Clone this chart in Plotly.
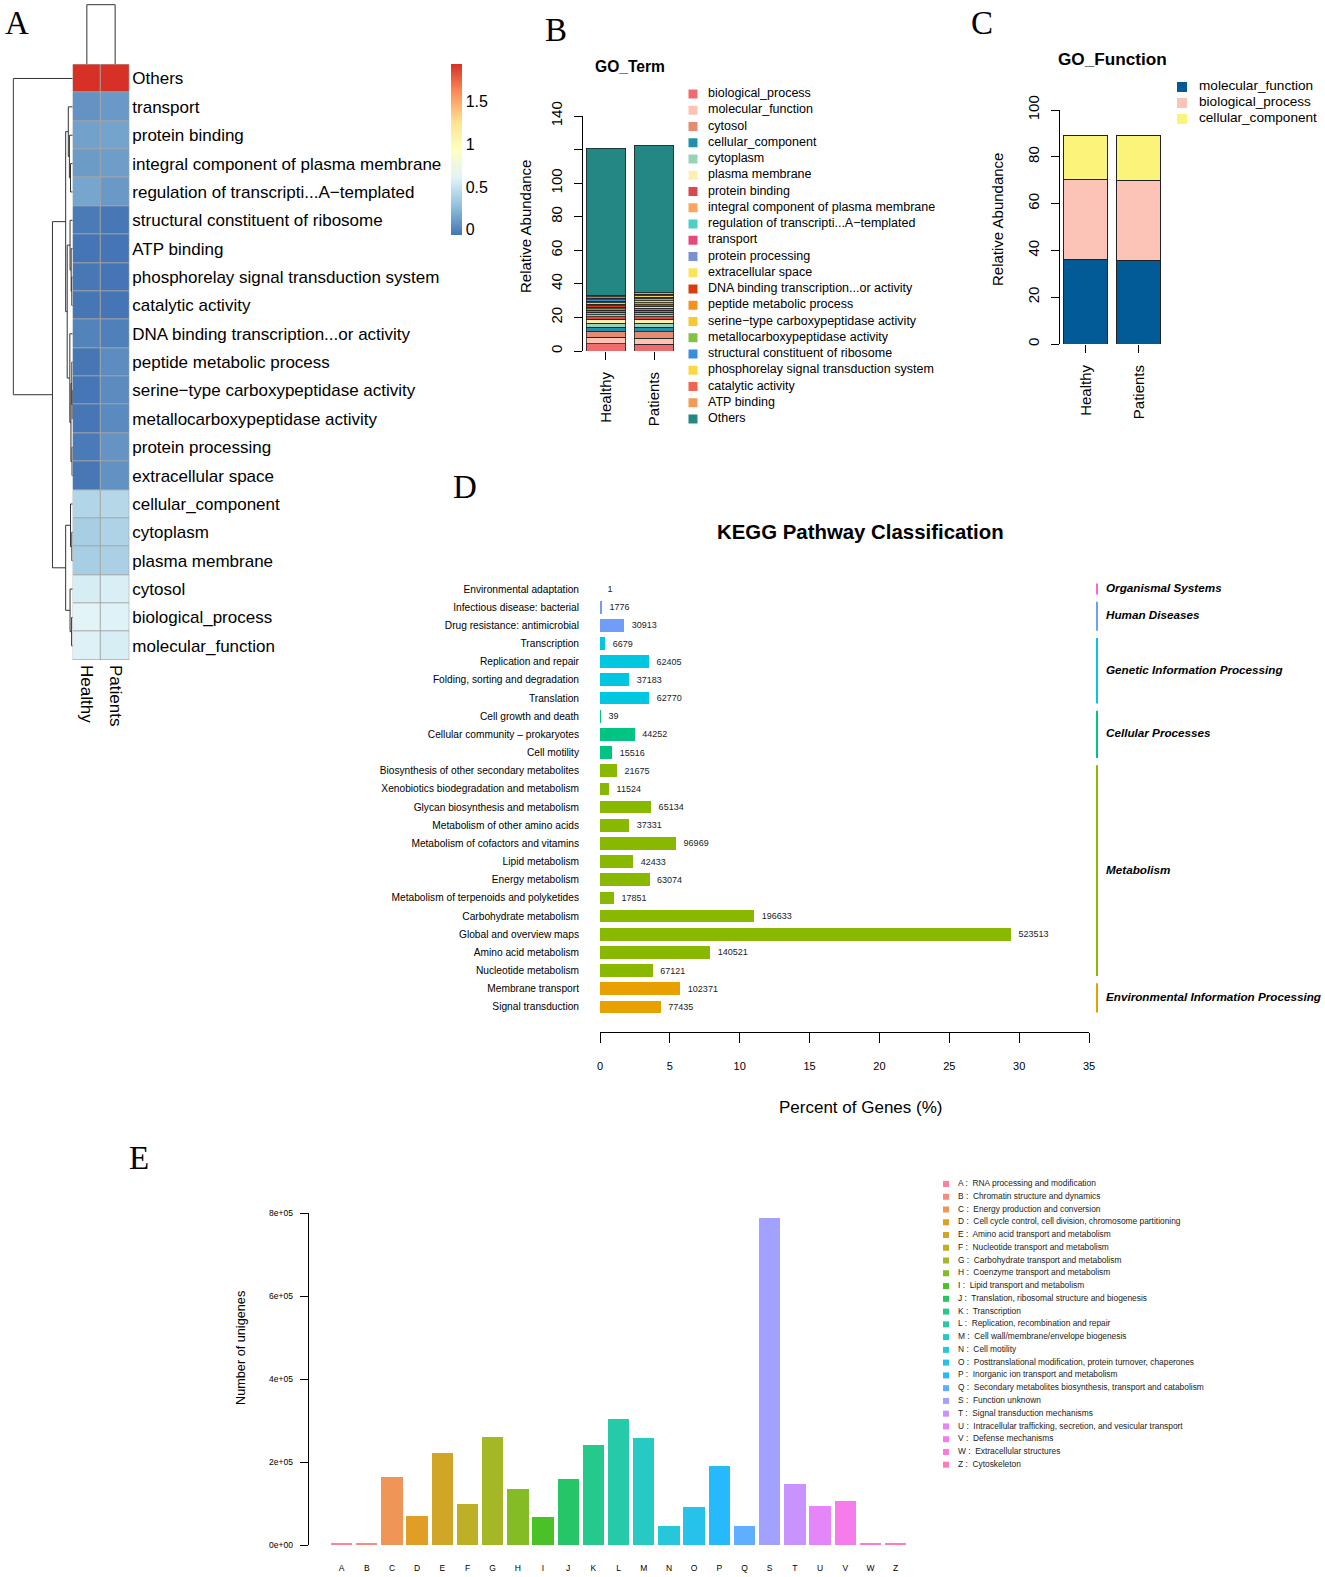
import math
import plotly.graph_objects as go

W, H = 1325, 1577
FONT = "Liberation Sans, Arial, Helvetica, sans-serif"

# ======================= Panel A : heatmap data =======================
hm_rows = ["Others", "transport", "protein binding", "integral component of plasma membrane",
           "regulation of transcripti...A\u2212templated", "structural constituent of ribosome",
           "ATP binding", "phosphorelay signal transduction system", "catalytic activity",
           "DNA binding transcription...or activity", "peptide metabolic process",
           "serine\u2212type carboxypeptidase activity", "metallocarboxypeptidase activity",
           "protein processing", "extracellular space", "cellular_component", "cytoplasm",
           "plasma membrane", "cytosol", "biological_process", "molecular_function"]
hm_cols = ["Healthy", "Patients"]
hm_healthy = [1.94, 0.069, 0.135, 0.108, 0.152, -0.037, -0.063, -0.056, -0.060, -0.001, -0.060,
              -0.058, -0.058, -0.040, -0.055, 0.415, 0.364, 0.364, 0.563, 0.625, 0.592]
hm_patients = [1.94, 0.100, 0.143, 0.117, 0.100, -0.055, -0.062, -0.062, -0.062, -0.015, 0.042,
               0.034, 0.030, 0.078, 0.065, 0.423, 0.394, 0.381, 0.576, 0.597, 0.570]
# row dendrogram (scipy-style linkage: left id, right id, merge height)
row_linkage = [[3, 4, 0.10], [2, 21, 0.15], [1, 22, 0.20], [7, 8, 0.04], [6, 24, 0.07],
               [5, 25, 0.12], [11, 12, 0.02], [10, 27, 0.04], [13, 14, 0.03], [28, 29, 0.08],
               [9, 30, 0.13], [26, 31, 0.25], [23, 32, 0.32], [16, 17, 0.04], [15, 34, 0.10],
               [19, 20, 0.05], [18, 36, 0.12], [35, 37, 0.32], [33, 38, 0.92], [0, 39, 2.70]]
col_linkage = [[0, 1, 1.0]]
heat_colors = ["#4575B4", "#91BFDB", "#E0F3F8", "#FFFFBF", "#FEE090", "#FC8D59", "#D73027"]

# ======================= Panel B : GO_Term =======================
go_terms = ["biological_process", "molecular_function", "cytosol", "cellular_component", "cytoplasm",
            "plasma membrane", "protein binding", "integral component of plasma membrane",
            "regulation of transcripti...A\u2212templated", "transport", "protein processing",
            "extracellular space", "DNA binding transcription...or activity", "peptide metabolic process",
            "serine\u2212type carboxypeptidase activity", "metallocarboxypeptidase activity",
            "structural constituent of ribosome", "phosphorelay signal transduction system",
            "catalytic activity", "ATP binding", "Others"]
go_healthy = [4.2, 3.9, 3.6, 2.6, 2.3, 2.3, 1.4, 1.3, 1.4, 1.2, 0.9, 0.9, 1.0, 0.9, 0.9, 0.9,
              0.9, 0.9, 0.9, 0.9, 87.4]
go_patients = [4.0, 3.7, 3.8, 2.6, 2.5, 2.4, 1.4, 1.3, 1.3, 1.3, 1.2, 1.2, 1.0, 1.1, 1.1, 1.1,
               0.9, 0.9, 0.9, 0.9, 88.0]
go_colors = ["#EE6B6E", "#FCC2B3", "#E58C70", "#238FAE", "#97D4B7", "#FDEFB2", "#D8484E", "#FBA65C",
             "#4DD0C3", "#E64A7B", "#7A90D2", "#FBE35C", "#D83C0C", "#F4921F", "#F5C933", "#84C042",
             "#3A8DD8", "#FDD745", "#F16550", "#F29A58", "#238783"]
go_ticks = [0, 20, 40, 60, 80, 100, 120, 140]
go_ticktext = ["0", "20", "40", "60", "80", "100", "", "140"]

# ======================= Panel C : GO_Function =======================
fn_names = ["molecular_function", "biological_process", "cellular_component"]
fn_healthy = [35.9, 34.2, 18.8]
fn_patients = [35.8, 33.9, 19.2]
fn_colors = ["#025A97", "#FCC4B6", "#FBF47B"]

# ======================= Panel D : KEGG =======================
kegg_paths = ["Environmental adaptation", "Infectious disease: bacterial", "Drug resistance: antimicrobial",
              "Transcription", "Replication and repair", "Folding, sorting and degradation", "Translation",
              "Cell growth and death", "Cellular community \u2013 prokaryotes", "Cell motility",
              "Biosynthesis of other secondary metabolites", "Xenobiotics biodegradation and metabolism",
              "Glycan biosynthesis and metabolism", "Metabolism of other amino acids",
              "Metabolism of cofactors and vitamins", "Lipid metabolism", "Energy metabolism",
              "Metabolism of terpenoids and polyketides", "Carbohydrate metabolism",
              "Global and overview maps", "Amino acid metabolism", "Nucleotide metabolism",
              "Membrane transport", "Signal transduction"]
kegg_counts = [1, 1776, 30913, 6679, 62405, 37183, 62770, 39, 44252, 15516, 21675, 11524, 65134,
               37331, 96969, 42433, 63074, 17851, 196633, 523513, 140521, 67121, 102371, 77435]
kegg_group_of = [0, 1, 1, 2, 2, 2, 2, 3, 3, 3, 4, 4, 4, 4, 4, 4, 4, 4, 4, 4, 4, 4, 5, 5]
kegg_groups = ["Organismal Systems", "Human Diseases", "Genetic Information Processing",
               "Cellular Processes", "Metabolism", "Environmental Information Processing"]
kegg_group_colors = ["#F564E3", "#6F9DF7", "#00C6E2", "#00C384", "#89B800", "#E8A000"]
kegg_total_genes = 1780000
kegg_ticks = [0, 5, 10, 15, 20, 25, 30, 35]

# ======================= Panel E : COG =======================
cog_codes = ["A", "B", "C", "D", "E", "F", "G", "H", "I", "J", "K", "L", "M", "N", "O", "P", "Q",
             "S", "T", "U", "V", "W", "Z"]
cog_desc = ["RNA processing and modification", "Chromatin structure and dynamics",
            "Energy production and conversion", "Cell cycle control, cell division, chromosome partitioning",
            "Amino acid transport and metabolism", "Nucleotide transport and metabolism",
            "Carbohydrate transport and metabolism", "Coenzyme transport and metabolism",
            "Lipid transport and metabolism", "Translation, ribosomal structure and biogenesis",
            "Transcription", "Replication, recombination and repair",
            "Cell wall/membrane/envelope biogenesis", "Cell motility",
            "Posttranslational modification, protein turnover, chaperones",
            "Inorganic ion transport and metabolism",
            "Secondary metabolites biosynthesis, transport and catabolism", "Function unknown",
            "Signal transduction mechanisms", "Intracellular trafficking, secretion, and vesicular transport",
            "Defense mechanisms", "Extracellular structures", "Cytoskeleton"]
cog_counts = [3000, 2000, 164000, 70700, 223000, 100000, 261000, 136000, 68000, 158000, 242000,
              303000, 258000, 47000, 91000, 190500, 46000, 788000, 148000, 95000, 105000, 3500, 2500]
cog_ticks = [0, 200000, 400000, 600000, 800000]
cog_ticktext = ["0e+00", "2e+05", "4e+05", "6e+05", "8e+05"]


# ----------------------- helpers -----------------------
def xd(a, b):
    return [a / W, b / W]


def yd(top, bottom):
    return [1 - bottom / H, 1 - top / H]


def hcl_hex(h, c=100.0, l=65.0):
    hr = math.radians(h)
    u, v = c * math.cos(hr), c * math.sin(hr)
    Xn, Yn, Zn = 95.047, 100.0, 108.883
    Y = Yn * ((l + 16) / 116) ** 3
    d = Xn + 15 * Yn + 3 * Zn
    up = u / (13 * l) + 4 * Xn / d
    vp = v / (13 * l) + 9 * Yn / d
    X = Y * 9 * up / (4 * vp)
    Z = Y * (12 - 3 * up - 20 * vp) / (4 * vp)
    X, Y, Z = X / 100, Y / 100, Z / 100
    rgb = [3.240479 * X - 1.537150 * Y - 0.498535 * Z,
           -0.969256 * X + 1.875992 * Y + 0.041556 * Z,
           0.055648 * X - 0.204043 * Y + 1.057311 * Z]
    out = []
    for t in rgb:
        t = 12.92 * t if t <= 0.0031308 else 1.055 * t ** (1 / 2.4) - 0.055
        out.append(int(round(max(0, min(1, t)) * 255)))
    return "#%02X%02X%02X" % tuple(out)


def dendro_lines(linkage, n_leaves):
    pos = {i: (float(i), 0.0) for i in range(n_leaves)}
    p_list, h_list = [], []
    for k, (a, b, h) in enumerate(linkage):
        pa, ha = pos[a]
        pb, hb = pos[b]
        p_list += [pa, pa, pb, pb, None]
        h_list += [ha, h, h, hb, None]
        pos[n_leaves + k] = ((pa + pb) / 2, h)
    return p_list, h_list


fig = go.Figure()
ax_common = dict(showgrid=False, zeroline=False, automargin=False)

# ----------------------- Panel A -----------------------
nr = len(hm_rows)
colorscale = [[i / (len(heat_colors) - 1), c] for i, c in enumerate(heat_colors)]
fig.add_trace(go.Heatmap(
    z=[[a, b] for a, b in zip(hm_healthy, hm_patients)], x=[0, 1], y=list(range(nr)),
    colorscale=colorscale, xgap=1, ygap=1, hoverinfo="skip", xaxis="x", yaxis="y",
    colorbar=dict(thickness=11, thicknessmode="pixels", len=171, lenmode="pixels",
                  x=451 / W, xanchor="left", xpad=0, y=1 - 64 / H, yanchor="top", ypad=0,
                  outlinewidth=0, ticks="", tickvals=[0, 0.5, 1, 1.5], ticktext=["0", "0.5", "1", "1.5"],
                  tickfont=dict(size=16, color="black"))))
rp, rh = dendro_lines(row_linkage, nr)
fig.add_trace(go.Scatter(x=rh, y=rp, mode="lines", line=dict(color="#333333", width=1),
                         xaxis="x2", yaxis="y", hoverinfo="skip", showlegend=False))
cp, ch = dendro_lines(col_linkage, 2)
fig.add_trace(go.Scatter(x=cp, y=ch, mode="lines", line=dict(color="#333333", width=1),
                         xaxis="x", yaxis="y2", hoverinfo="skip", showlegend=False))
top_h = max(r[2] for r in col_linkage)
root_h = max(r[2] for r in row_linkage)

# ----------------------- Panel B -----------------------
for name, a, b, c in zip(go_terms, go_healthy, go_patients, go_colors):
    fig.add_trace(go.Bar(x=[0, 1], y=[a, b], width=0.833, name=name, showlegend=False,
                         marker=dict(color=c, line=dict(color="#222222", width=0.8)),
                         xaxis="x3", yaxis="y3", hoverinfo="skip"))
nb = len(go_terms)
fig.add_trace(go.Scatter(x=[693] * nb, y=list(range(nb)), mode="markers",
                         marker=dict(symbol="square", size=9, color=go_colors, line=dict(width=0)),
                         xaxis="x7", yaxis="y7", hoverinfo="skip", showlegend=False))
fig.add_trace(go.Scatter(x=[708] * nb, y=list(range(nb)), mode="text", text=go_terms,
                         textposition="middle right", textfont=dict(size=12.5, color="black"),
                         cliponaxis=False, xaxis="x7", yaxis="y7", hoverinfo="skip", showlegend=False))

# ----------------------- Panel C -----------------------
for name, a, b, c in zip(fn_names, fn_healthy, fn_patients, fn_colors):
    fig.add_trace(go.Bar(x=[0, 1], y=[a, b], width=0.83, name=name, showlegend=False,
                         marker=dict(color=c, line=dict(color="#222222", width=1)),
                         xaxis="x5", yaxis="y5", hoverinfo="skip"))
nf = len(fn_names)
fig.add_trace(go.Scatter(x=[1182] * nf, y=list(range(nf)), mode="markers",
                         marker=dict(symbol="square", size=10, color=fn_colors, line=dict(width=0)),
                         xaxis="x9", yaxis="y9", hoverinfo="skip", showlegend=False))
fig.add_trace(go.Scatter(x=[1199] * nf, y=list(range(nf)), mode="text", text=fn_names,
                         textposition="middle right", textfont=dict(size=13.6, color="black"),
                         cliponaxis=False, xaxis="x9", yaxis="y9", hoverinfo="skip", showlegend=False))

# ----------------------- Panel D -----------------------
nk = len(kegg_paths)
kegg_pct = [c / kegg_total_genes * 100 for c in kegg_counts]
fig.add_trace(go.Bar(
    x=kegg_pct, y=list(range(nk)), orientation="h", width=0.7,
    marker=dict(color=[kegg_group_colors[g] for g in kegg_group_of], line=dict(width=0)),
    text=["\u2002" + str(c) for c in kegg_counts], textposition="outside",
    outsidetextfont=dict(size=9, color="#222222"), constraintext="none", cliponaxis=False,
    xaxis="x4", yaxis="y4", hoverinfo="skip", showlegend=False))
for gi, (gname, gcol) in enumerate(zip(kegg_groups, kegg_group_colors)):
    idx = [i for i, g in enumerate(kegg_group_of) if g == gi]
    y0, y1 = min(idx) - 0.3, max(idx) + 0.3
    fig.add_trace(go.Scatter(x=[1097, 1097], y=[y0, y1], mode="lines",
                             line=dict(color=gcol, width=2), xaxis="x8", yaxis="y4",
                             hoverinfo="skip", showlegend=False))
    fig.add_trace(go.Scatter(x=[1106], y=[(min(idx) + max(idx)) / 2], mode="text",
                             text=["<b><i>" + gname + "</i></b>"], textposition="middle right",
                             textfont=dict(size=11.7, color="black"), cliponaxis=False,
                             xaxis="x8", yaxis="y4", hoverinfo="skip", showlegend=False))

# ----------------------- Panel E -----------------------
nc = len(cog_codes)
cog_colors = [hcl_hex(i * 360.0 / nc) for i in range(nc)]
fig.add_trace(go.Bar(x=list(range(nc)), y=cog_counts, width=0.85,
                     marker=dict(color=cog_colors, opacity=0.85, line=dict(width=0)),
                     xaxis="x6", yaxis="y6", hoverinfo="skip", showlegend=False))
fig.add_trace(go.Scatter(x=[946] * nc, y=list(range(nc)), mode="markers",
                         marker=dict(symbol="square", size=6, color=cog_colors, opacity=0.85,
                                     line=dict(width=0)),
                         xaxis="x10", yaxis="y10", hoverinfo="skip", showlegend=False))
fig.add_trace(go.Scatter(x=[958] * nc, y=list(range(nc)), mode="text",
                         text=[f"{c} :\u00a0 {d}" for c, d in zip(cog_codes, cog_desc)],
                         textposition="middle right", textfont=dict(size=8.4, color="#222222"),
                         cliponaxis=False, xaxis="x10", yaxis="y10", hoverinfo="skip", showlegend=False))

# ----------------------- layout -----------------------
hidden = dict(visible=False, showgrid=False, zeroline=False, automargin=False)
layout = dict(
    template="none",
    width=W, height=H, margin=dict(l=0, r=0, t=0, b=0, pad=0, autoexpand=False),
    paper_bgcolor="white", plot_bgcolor="rgba(0,0,0,0)",
    font=dict(family=FONT, color="black"), barmode="stack", showlegend=False,
    # Panel A
    xaxis=dict(domain=xd(72.7, 129.3), range=[-0.5, 1.5], anchor="y", tickvals=[0, 1],
               ticktext=hm_cols, tickangle=90, ticks="", showline=False,
               tickfont=dict(size=17), ticklabelstandoff=4, **ax_common),
    yaxis=dict(domain=yd(64.3, 660), range=[nr - 0.5, -0.5], anchor="x", side="right",
               tickvals=list(range(nr)), ticktext=hm_rows, ticks="", showline=False,
               tickfont=dict(size=17), ticklabelstandoff=2, **ax_common),
    xaxis2=dict(domain=xd(12.2, 72.7), range=[root_h * 1.0185, 0], anchor="y", **hidden),
    yaxis2=dict(domain=yd(3.5, 64.3), range=[0, top_h * 1.02], anchor="x", **hidden),
    # Panel B
    xaxis3=dict(domain=xd(583, 678), range=[-0.479, 1.5], anchor="y3", tickvals=[0, 1],
                ticktext=hm_cols, tickangle=-90, ticks="outside", ticklen=8, tickcolor="black",
                showline=False, tickfont=dict(size=15), ticklabelstandoff=6, **ax_common),
    yaxis3=dict(domain=yd(116, 351), range=[0, 140], anchor="x3", tickvals=go_ticks,
                ticktext=go_ticktext,
                tickangle=-90, ticks="outside", ticklen=8, tickcolor="black", showline=True,
                linecolor="black", linewidth=1, tickfont=dict(size=15), ticklabelstandoff=6, **ax_common),
    xaxis7=dict(domain=xd(683, 1000), range=[683, 1000], anchor="y7", **hidden),
    yaxis7=dict(domain=yd(85.9, 427.1), range=[nb - 0.5, -0.5], anchor="x7", **hidden),
    # Panel C
    xaxis5=dict(domain=xd(1060, 1165.5), range=[-0.49, 1.5], anchor="y5", tickvals=[0, 1],
                ticktext=hm_cols, tickangle=-90, ticks="outside", ticklen=8, tickcolor="black",
                showline=False, tickfont=dict(size=15), ticklabelstandoff=6, **ax_common),
    yaxis5=dict(domain=yd(110, 344), range=[0, 100], anchor="x5", tickvals=list(range(0, 101, 20)),
                tickangle=-90, ticks="outside", ticklen=8, tickcolor="black", showline=True,
                linecolor="black", linewidth=1, tickfont=dict(size=15), ticklabelstandoff=6, **ax_common),
    xaxis9=dict(domain=xd(1170, 1325), range=[1170, 1325], anchor="y9", **hidden),
    yaxis9=dict(domain=yd(79, 127), range=[nf - 0.5, -0.5], anchor="x9", **hidden),
    # Panel D
    xaxis4=dict(domain=xd(600, 1089), range=[0, 35], anchor="y4", tickvals=kegg_ticks,
                ticks="outside", ticklen=10, tickcolor="black", showline=True, linecolor="black",
                linewidth=1, tickfont=dict(size=11), ticklabelstandoff=14, **ax_common),
    yaxis4=dict(domain=yd(579.9, 1032), range=[nk - 0.5 + 0.88, -0.5], anchor="x4",
                tickvals=list(range(nk)), ticktext=kegg_paths, ticks="", showline=False,
                tickfont=dict(size=10.2), ticklabelstandoff=20, **ax_common),
    xaxis8=dict(domain=xd(1090, 1325), range=[1090, 1325], anchor="y4", **hidden),
    # Panel E
    xaxis6=dict(domain=xd(308.6, 910.7), range=[-1.31, nc - 0.4], anchor="y6",
                tickvals=list(range(nc)), ticktext=cog_codes, ticks="", showline=False,
                tickfont=dict(size=8.5), ticklabelstandoff=16, **ax_common),
    yaxis6=dict(domain=yd(1213.3, 1545), range=[0, 800000], anchor="x6", tickvals=cog_ticks,
                ticktext=cog_ticktext, ticks="outside", ticklen=8, tickcolor="black", showline=True,
                linecolor="black", linewidth=1, tickfont=dict(size=8.5), ticklabelstandoff=5, **ax_common),
    xaxis10=dict(domain=xd(935, 1325), range=[935, 1325], anchor="y10", **hidden),
    yaxis10=dict(domain=yd(1177.6, 1471.1), range=[nc - 0.5, -0.5], anchor="x10", **hidden),
)
fig.update_layout(**layout)

# grey cell borders of heatmap
fig.add_shape(type="rect", xref="x", yref="y", x0=-0.5, x1=1.5, y0=-0.5, y1=nr - 0.5,
              fillcolor="#A5A5A5", line=dict(color="#A5A5A5", width=1), layer="below")


def ann(text, x, y, size, **kw):
    fig.add_annotation(text=text, x=x / W, y=1 - y / H, xref="paper", yref="paper",
                       showarrow=False, font=dict(size=size, color="black", family=kw.pop("family", FONT)),
                       xanchor=kw.pop("xanchor", "center"), yanchor=kw.pop("yanchor", "middle"), **kw)


SERIF = "Liberation Serif, Times New Roman, serif"
ann("A", 16.5, 22.5, 33, family=SERIF)
ann("B", 556, 30, 33, family=SERIF)
ann("C", 982, 23.5, 33, family=SERIF)
ann("D", 465, 487, 33, family=SERIF)
ann("E", 139, 1158, 33, family=SERIF)
ann("<b>GO_Term</b>", 630, 66, 15.6)
ann("<b>GO_Function</b>", 1112, 59, 17.2)
ann("Relative Abundance", 526, 227, 15, textangle=-90)
ann("Relative Abundance", 997.5, 219.5, 15, textangle=-90)
ann("<b>KEGG Pathway Classification</b>", 860, 532, 20.4)
ann("Percent of Genes (%)", 860, 1107, 17)
ann("Number of unigenes", 241, 1348, 12.7, textangle=-90)

fig.write_html("out.html", config={"displayModeBar": False},
               post_script="document.body.style.margin='0px';document.body.style.padding='0px';")
